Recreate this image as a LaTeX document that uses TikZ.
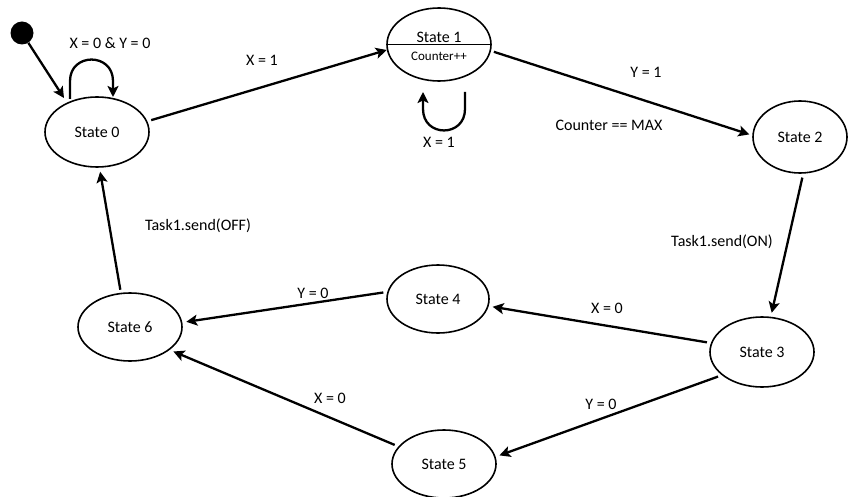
\documentclass[tikz,border=0pt]{standalone}
\usepackage{fontspec}
\setmainfont{Carlito}
\usetikzlibrary{shapes.geometric,arrows.meta}
\begin{document}
\begin{tikzpicture}[x=1pt,y=-1pt,
  st/.style={draw,ellipse,line width=1.6pt,inner sep=0pt,minimum width=104pt,minimum height=70pt,font=\fontsize{16}{18}\selectfont},
  arr/.style={line width=2.3pt,-{Stealth[length=11pt,width=11pt,inset=2.5pt]}},
  lbl/.style={font=\fontsize{16}{18}\selectfont,inner sep=0pt}]
\useasboundingbox (0,0) rectangle (850,497);
% states
\node[st] (s0) at (97,132) {State 0};
\node[st,minimum height=73pt] (s1) at (439,44.5) {};
\node[st,minimum width=94pt,minimum height=72pt] (s2) at (800,137) {State 2};
\node[st] (s3) at (762,352) {State 3};
\node[st,minimum width=102pt,minimum height=68pt] (s4) at (438,299) {State 4};
\node[st,minimum height=68pt] (s5) at (444,464) {State 5};
\node[st,minimum height=68pt] (s6) at (130,327) {State 6};
% State 1 contents
\draw[line width=1.4pt] (s1.west) -- (s1.east);
\node[lbl] (s1t) at (439,37) {State 1};
\node[lbl,font=\fontsize{13}{15}\selectfont] (s1c) at (439,56) {Counter++};
% initial
\node[circle,fill=black,minimum size=23pt,inner sep=0pt] (init) at (22,33) {};
\coordinate (i0) at (64,98);
\draw[arr] (init) -- (i0);
% self loop state 0
\coordinate (l0a) at (70,99);
\coordinate (l0b) at (113,97);
\draw[arr] (l0a) -- (70,81) .. controls (70,52.4) and (113,52.4) .. (113,81) -- (l0b);
% self loop state 1
\coordinate (l1a) at (465,92);
\coordinate (l1b) at (423,92);
\draw[arr] (l1a) -- (465,109) .. controls (465,137.6) and (423,137.6) .. (423,109) -- (l1b);
% transitions
\draw[arr,shorten <=4pt] (s0.12) -- (s1.186);
\draw[arr,shorten <=3pt,shorten >=3pt] (s1.-7) -- (s2.178);
\draw[arr,shorten <=4pt,shorten >=4pt] (s2.-85) -- (s3.76);
\draw[arr,shorten <=4pt,shorten >=4pt] (s3.170) -- (s4.-8);
\draw[arr,shorten <=4pt,shorten >=4pt] (s3.210) -- (s5.8);
\draw[arr,shorten <=4pt,shorten >=4pt] (s4.172) -- (s6.5);
\draw[arr,shorten <=4pt,shorten >=4pt] (s5.159) -- (s6.-30);
\draw[arr,shorten <=3pt,shorten >=4pt] (s6.105) -- (s0.-86);
% labels
\node[lbl] (t1) at (110,43) {X = 0 \& Y = 0};
\node[lbl] (t2) at (262,60) {X = 1};
\node[lbl] (t3) at (439,142) {X = 1};
\node[lbl] (t4) at (646,72) {Y = 1};
\node[lbl] (t5) at (609,125) {Counter == MAX};
\node[lbl] (t6) at (722,242) {Task1.send(ON)};
\node[lbl] (t7) at (198,226) {Task1.send(OFF)};
\node[lbl] (t8) at (607,308) {X = 0};
\node[lbl] (t9) at (313,293) {Y = 0};
\node[lbl] (t10) at (601,404) {Y = 0};
\node[lbl] (t11) at (330,398) {X = 0};
\end{tikzpicture}
\end{document}
